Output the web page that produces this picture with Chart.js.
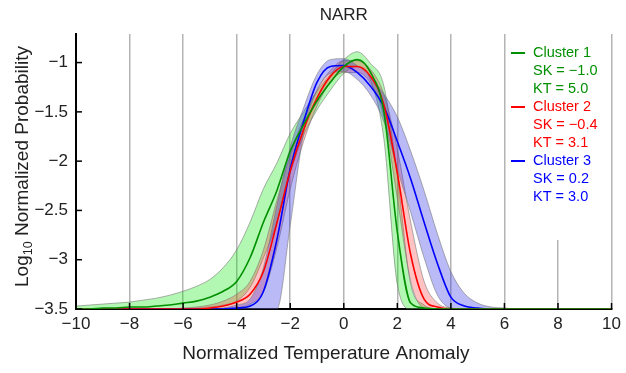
<!DOCTYPE html>
<html>
<head>
<meta charset="utf-8">
<script src="https://cdn.jsdelivr.net/npm/chart.js@4.4.0/dist/chart.umd.min.js"></script>
<style>
  html, body { margin: 0; padding: 0; background: #fff; }
  #wrap { width: 626px; height: 373px; }
</style>
</head>
<body>
<div id="wrap"><canvas id="myChart"></canvas></div>
<script>
const anomaly = [-10, -9.5, -9, -8.5, -8, -7.5, -7, -6.5, -6, -5.5, -5, -4.5, -4, -3.5, -3, -2.5, -2, -1.5, -1, -0.5,
  0, 0.5, 1, 1.5, 2, 2.5, 3, 3.5, 4, 4.5, 5, 5.5, 6, 6.5, 7, 7.5, 8, 8.5, 9, 9.5, 10];

// Cluster 1 (green)
const c1Mean = [-3.5, -3.5, -3.49, -3.49, -3.48, -3.48, -3.47, -3.46, -3.44, -3.42, -3.38, -3.32, -3.22, -2.98, -2.62, -2.3, -1.9, -1.63, -1.39, -1.2,
  -1.04, -0.97, -1.1, -1.5, -2.72, -3.44, -3.49, -3.5, -3.5, -3.5, -3.5, -3.5, -3.5, -3.5, -3.5, -3.5, -3.5, -3.5, -3.5, -3.5, -3.5];
const c1Lo = [-3.5, -3.5, -3.5, -3.5, -3.5, -3.5, -3.5, -3.5, -3.5, -3.49, -3.48, -3.46, -3.42, -3.28, -2.98, -2.62, -2.12, -1.74, -1.48, -1.28,
  -1.11, -1.04, -1.18, -1.78, -3.25, -3.5, -3.5, -3.5, -3.5, -3.5, -3.5, -3.5, -3.5, -3.5, -3.5, -3.5, -3.5, -3.5, -3.5, -3.5, -3.5];
const c1Hi = [-3.47, -3.46, -3.45, -3.44, -3.43, -3.41, -3.39, -3.36, -3.32, -3.27, -3.2, -3.08, -2.9, -2.62, -2.28, -2.02, -1.72, -1.5, -1.29, -1.12,
  -0.97, -0.89, -1.01, -1.24, -2.15, -3.25, -3.46, -3.5, -3.5, -3.5, -3.5, -3.5, -3.5, -3.5, -3.5, -3.5, -3.5, -3.5, -3.5, -3.5, -3.5];

// Cluster 2 (red)
const c2Mean = [-3.5, -3.5, -3.5, -3.5, -3.5, -3.5, -3.5, -3.5, -3.5, -3.5, -3.49, -3.47, -3.43, -3.35, -3.12, -2.63, -2.1, -1.68, -1.36, -1.14,
  -1.04, -1.04, -1.14, -1.43, -2.12, -2.95, -3.4, -3.48, -3.5, -3.5, -3.5, -3.5, -3.5, -3.5, -3.5, -3.5, -3.5, -3.5, -3.5, -3.5, -3.5];
const c2Lo = [-3.5, -3.5, -3.5, -3.5, -3.5, -3.5, -3.5, -3.5, -3.5, -3.5, -3.5, -3.5, -3.49, -3.45, -3.33, -2.88, -2.28, -1.8, -1.44, -1.2,
  -1.1, -1.1, -1.21, -1.55, -2.38, -3.22, -3.49, -3.5, -3.5, -3.5, -3.5, -3.5, -3.5, -3.5, -3.5, -3.5, -3.5, -3.5, -3.5, -3.5, -3.5];
const c2Hi = [-3.5, -3.5, -3.5, -3.5, -3.5, -3.5, -3.5, -3.5, -3.49, -3.48, -3.46, -3.42, -3.35, -3.22, -2.9, -2.4, -1.94, -1.57, -1.28, -1.08,
  -0.98, -0.98, -1.07, -1.32, -1.88, -2.62, -3.22, -3.44, -3.49, -3.5, -3.5, -3.5, -3.5, -3.5, -3.5, -3.5, -3.5, -3.5, -3.5, -3.5, -3.5];

// Cluster 3 (blue)
const c3Mean = [-3.5, -3.5, -3.5, -3.5, -3.5, -3.5, -3.5, -3.5, -3.5, -3.5, -3.5, -3.5, -3.49, -3.47, -3.32, -2.8, -2.08, -1.6, -1.2, -1.04,
  -1.03, -1.1, -1.24, -1.45, -1.8, -2.18, -2.62, -3.04, -3.38, -3.47, -3.49, -3.5, -3.5, -3.5, -3.5, -3.5, -3.5, -3.5, -3.5, -3.5, -3.5];
const c3Lo = [-3.5, -3.5, -3.5, -3.5, -3.5, -3.5, -3.5, -3.5, -3.5, -3.5, -3.5, -3.5, -3.5, -3.5, -3.5, -3.5, -2.65, -1.72, -1.28, -1.11,
  -1.09, -1.17, -1.33, -1.6, -2.08, -2.52, -2.98, -3.36, -3.49, -3.5, -3.5, -3.5, -3.5, -3.5, -3.5, -3.5, -3.5, -3.5, -3.5, -3.5, -3.5];
const c3Hi = [-3.5, -3.5, -3.5, -3.5, -3.5, -3.5, -3.5, -3.5, -3.5, -3.5, -3.5, -3.49, -3.46, -3.4, -3.08, -2.45, -1.86, -1.46, -1.12, -0.97,
  -0.96, -1.03, -1.15, -1.32, -1.55, -1.9, -2.3, -2.74, -3.12, -3.34, -3.44, -3.48, -3.49, -3.5, -3.5, -3.5, -3.5, -3.5, -3.5, -3.5, -3.5];

const xTicks = [-10, -8, -6, -4, -2, 0, 2, 4, 6, 8, 10];
const yTicks = [-3.5, -3, -2.5, -2, -1.5, -1];
const clusterNames = ["Cluster 1", "Cluster 2", "Cluster 3"];
const skewness = ["\u22121.0", "\u22120.4", "0.2"];
const kurtosis = ["5.0", "3.1", "3.0"];

const lineColors = ["#009000", "#ff0000", "#0000ff"];
const bandColors = ["rgba(0,230,0,0.3)", "rgba(255,40,40,0.28)", "rgba(40,40,230,0.32)"];
const FONT = "'Liberation Sans', Arial, Helvetica, sans-serif";

const pts = (arr) => anomaly.map((x, i) => ({ x: x, y: arr[i] }));
const fmt = (v) => String(v).replace("-", "\u2212");

function bandEdge(arr) {
  return { data: pts(arr), borderColor: "rgba(120,120,120,0.75)", borderWidth: 0.8, pointRadius: 0, fill: false, order: 1, cubicInterpolationMode: "monotone" };
}
function bandTop(arr, color) {
  return { data: pts(arr), borderColor: "rgba(120,120,120,0.75)", borderWidth: 0.8, pointRadius: 0, fill: "-1", backgroundColor: color, order: 1, cubicInterpolationMode: "monotone" };
}
function meanLine(arr, color) {
  return { data: pts(arr), borderColor: color, borderWidth: 1.6, pointRadius: 0, fill: false, order: 0, cubicInterpolationMode: "monotone" };
}

const extras = {
  id: "extras",
  beforeDatasetsDraw(chart) {
    // legend box hides the grid line behind it
    const { ctx, chartArea } = chart;
    ctx.save();
    ctx.fillStyle = "#fff";
    ctx.fillRect(508, chartArea.top, 101, 240 - chartArea.top);
    ctx.restore();
  },
  afterDraw(chart) {
    const { ctx, chartArea, scales } = chart;
    const xs = scales.x, ys = scales.y;
    ctx.save();
    // inward ticks
    ctx.strokeStyle = "#000";
    ctx.lineWidth = 1.5;
    xTicks.forEach((v) => {
      const px = xs.getPixelForValue(v);
      ctx.beginPath();
      ctx.moveTo(px, chartArea.bottom);
      ctx.lineTo(px, chartArea.bottom - 6);
      ctx.stroke();
    });
    yTicks.forEach((v) => {
      const py = ys.getPixelForValue(v);
      ctx.beginPath();
      ctx.moveTo(chartArea.left, py);
      ctx.lineTo(chartArea.left + 6, py);
      ctx.stroke();
    });

    // titles
    const cx = (chartArea.left + chartArea.right) / 2;
    ctx.fillStyle = "#222";
    ctx.textAlign = "center";
    ctx.textBaseline = "middle";
    ctx.font = "17px " + FONT;
    ctx.fillText("NARR", cx, 15);
    ctx.font = "19px " + FONT;
    ctx.fillText("Normalized Temperature Anomaly", cx - 18, 354);

    // y title with subscript
    const cy = (chartArea.top + chartArea.bottom) / 2 - 5;
    ctx.translate(21, cy);
    ctx.rotate(-Math.PI / 2);
    ctx.textAlign = "left";
    ctx.textBaseline = "alphabetic";
    ctx.font = "19px " + FONT;
    const w1 = ctx.measureText("Log").width;
    const w3 = ctx.measureText(" Normalized Probability").width;
    ctx.font = "12.5px " + FONT;
    const w2 = ctx.measureText("10").width;
    let x0 = -(w1 + w2 + w3) / 2;
    ctx.font = "19px " + FONT;
    ctx.fillText("Log", x0, 7);
    ctx.font = "12.5px " + FONT;
    ctx.fillText("10", x0 + w1, 11);
    ctx.font = "19px " + FONT;
    ctx.fillText(" Normalized Probability", x0 + w1 + w2, 7);
    ctx.restore();

    // legend
    ctx.save();
    ctx.font = "14.5px " + FONT;
    ctx.textBaseline = "middle";
    ctx.textAlign = "left";
    clusterNames.forEach((name, i) => {
      const y0 = 53 + i * 54;
      ctx.strokeStyle = lineColors[i];
      ctx.lineWidth = 2;
      ctx.beginPath();
      ctx.moveTo(511, y0);
      ctx.lineTo(525, y0);
      ctx.stroke();
      ctx.fillStyle = lineColors[i];
      ctx.fillText(name, 533, y0);
      ctx.fillText("SK = " + skewness[i], 533, y0 + 18);
      ctx.fillText("KT = " + kurtosis[i], 533, y0 + 36);
    });
    ctx.restore();
  }
};

new Chart(document.getElementById("myChart"), {
  type: "line",
  data: {
    datasets: [
      bandEdge(c3Lo), bandTop(c3Hi, bandColors[2]),
      bandEdge(c2Lo), bandTop(c2Hi, bandColors[1]),
      bandEdge(c1Lo), bandTop(c1Hi, bandColors[0]),
      meanLine(c1Mean, lineColors[0]),
      meanLine(c2Mean, lineColors[1]),
      meanLine(c3Mean, lineColors[2]),
    ],
  },
  options: {
    responsive: true,
    maintainAspectRatio: false,
    animation: false,
    layout: { padding: { top: 34, right: 14, left: 0, bottom: 0 } },
    plugins: { legend: { display: false }, tooltip: { enabled: false } },
    scales: {
      x: {
        type: "linear",
        min: -10,
        max: 10,
        afterBuildTicks: (s) => { s.ticks = xTicks.map((v) => ({ value: v })); },
        afterFit: (s) => { s.height = 64; },
        ticks: { callback: (v) => fmt(v), color: "#222", font: { size: 17, family: FONT }, padding: 5, maxRotation: 0 },
        grid: { color: "#b4b4b4", lineWidth: 1.5, drawTicks: false },
        border: { color: "#000", width: 2 },
      },
      y: {
        min: -3.5,
        max: -0.71,
        afterBuildTicks: (s) => { s.ticks = yTicks.map((v) => ({ value: v })); },
        afterFit: (s) => { s.width = 76; },
        ticks: { callback: (v) => fmt(v), color: "#222", font: { size: 17, family: FONT }, padding: 8 },
        grid: { display: false, drawTicks: false },
        border: { color: "#000", width: 2 },
      },
    },
  },
  plugins: [extras],
});
</script>
</body>
</html>
